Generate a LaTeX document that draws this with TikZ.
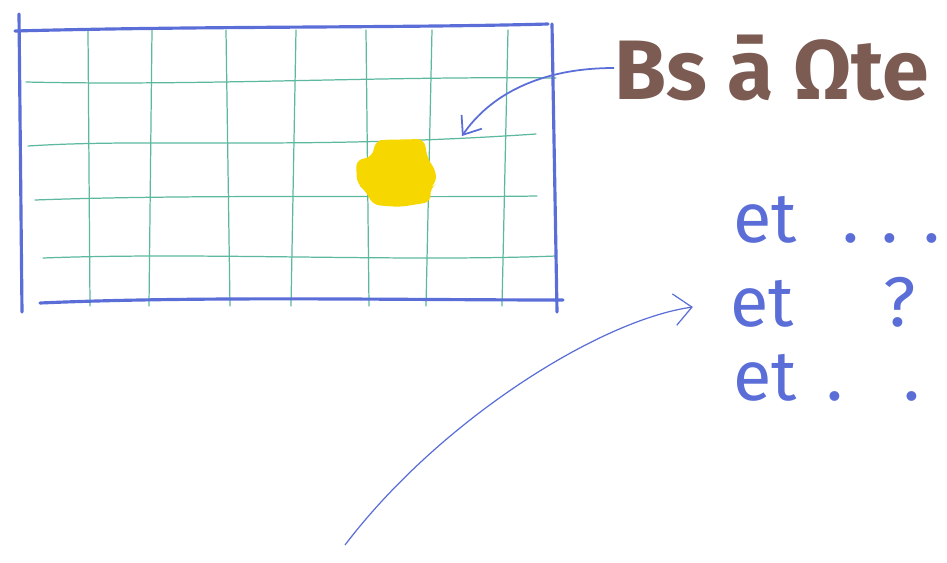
\documentclass[tikz,border=0pt]{standalone}
\usepackage{fontspec}
\usepackage{xcolor}
\usepackage{tikz}
\usetikzlibrary{arrows.meta,positioning,calc}
\newfontfamily\handfont{Fira Sans}
\definecolor{penblue}{HTML}{5B6ED8}
\definecolor{gridgreen}{HTML}{5CB89E}
\definecolor{penbrown}{HTML}{7B5B52}
\definecolor{markyellow}{HTML}{F6D700}

\begin{document}
\begin{tikzpicture}[x=0.02cm,y=-0.02cm,
  frame/.style={penblue,line width=1.8pt,line cap=round},
  gridline/.style={gridgreen,line width=0.7pt,line cap=round},
  etlabel/.style={penblue,anchor=base west,inner sep=0pt,font=\handfont\fontsize{40}{42}\selectfont}]
  \useasboundingbox (0,0) rectangle (947,562);
  % green grid
  \foreach \x/\dx in {88/2,152/-3,226/4,296/-5,366/3,432/-6,508/-6}
    \draw[gridline] (\x,30) -- (\x+\dx,306);
  \draw[gridline] (26,82) .. controls (200,86) and (380,76) .. (556,78);
  \draw[gridline] (28,146) .. controls (150,138) and (300,150) .. (536,134);
  \draw[gridline] (35,200) .. controls (200,194) and (400,198) .. (537,196);
  \draw[gridline] (43,258) .. controls (200,252) and (400,262) .. (556,256);
  % yellow spot
  \fill[markyellow,rounded corners=4pt] (376,140) -- (424,139) -- (428,160) -- (436,170)
    -- (436,184) -- (430,188) -- (431,202) -- (400,207) -- (373,205) -- (365,190)
    -- (357,184) -- (356,160) -- (372,157) -- cycle;
  % blue frame
  \draw[frame] (15,31) .. controls (200,26) and (400,28) .. (548,24);
  \draw[frame] (19,14) -- (22,312);
  \draw[frame] (552,24) -- (557,312);
  \draw[frame] (40,303) .. controls (200,296) and (400,300) .. (563,300);
  \coordinate (spot) at (462,136);
  % labels
  \node[penbrown,anchor=west,inner sep=0pt,font=\handfont\bfseries\fontsize{48}{50}\selectfont] (title) at (614,68) {Bs ā Ωte};
  \node[etlabel] (et1) at (733,242) {et\hspace{0.9cm}.\hspace{0.45cm}.\hspace{0.5cm}.};
  \node[etlabel] (et2) at (730,326) {et\hspace{1.8cm}?};
  \node[etlabel] (et3) at (733,400) {et\hspace{0.6cm}.\hspace{1.2cm}.};
  % arrows
  \draw[penblue,line width=1pt,-{Straight Barb[length=9pt,width=14pt]}] (title.west) .. controls (540,68) and (490,95) .. (spot);
  \coordinate (tail) at (345,545);
  \draw[penblue,line width=0.7pt,shorten >=0.75cm,-{Straight Barb[length=10pt,width=18pt]}] (tail) .. controls (440,420) and (600,320) .. (et2.west);
\end{tikzpicture}
\end{document}
